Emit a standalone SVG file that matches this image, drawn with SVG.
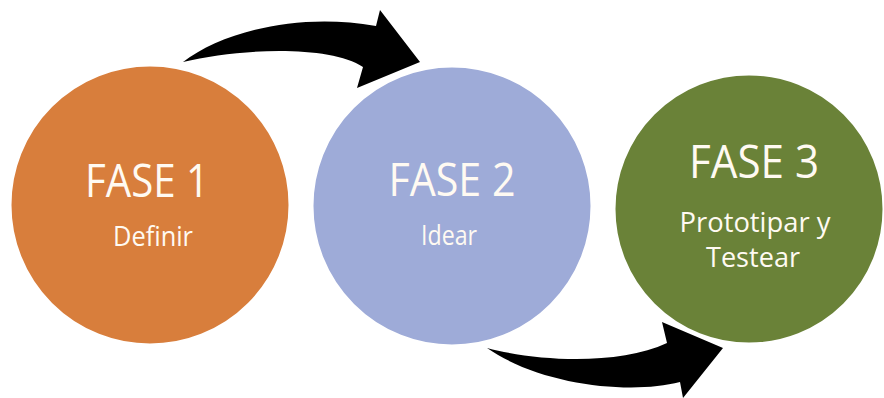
<svg xmlns="http://www.w3.org/2000/svg" width="884" height="398" viewBox="0 0 884 398">
<style>
.node circle{stroke:#ffffff;stroke-width:3}
.t{font-family:"Open Sans","Liberation Sans",sans-serif;fill:#fffaf2;text-anchor:middle}
.big{font-size:46px}
.small{font-size:27px}
.arrow{fill:#000000}
</style>
<rect width="884" height="398" fill="#ffffff"/>
<g id="connectors">
<path class="arrow" d="M183,62 C222,32 298,12 376,26 L380,10 L420,62 L357,88 L363,67 C330,45 240,48 183,62 Z"/>
<path class="arrow" d="M487,348 C540,362 620,365 667,343 L662,322 L723,348 L683,398 L680,382 C630,395 540,385 487,348 Z"/>
</g>
<g id="fase1" class="node">
<circle cx="150" cy="205" r="140" fill="#d87e3c"/>
<text class="t big" x="147" y="197" textLength="124" lengthAdjust="spacingAndGlyphs">FASE 1</text>
<text class="t small" x="153" y="246" textLength="80" lengthAdjust="spacingAndGlyphs">Definir</text>
</g>
<g id="fase2" class="node">
<circle cx="452" cy="206" r="140" fill="#9eabd8"/>
<text class="t big" x="452" y="196" textLength="127" lengthAdjust="spacingAndGlyphs">FASE 2</text>
<text class="t small" x="449" y="245" textLength="56" lengthAdjust="spacingAndGlyphs">Idear</text>
</g>
<g id="fase3" class="node">
<circle cx="749" cy="209" r="135" fill="#6a8238"/>
<text class="t big" x="754" y="178" textLength="130" lengthAdjust="spacingAndGlyphs">FASE 3</text>
<text class="t small" x="755" y="232" textLength="151" lengthAdjust="spacingAndGlyphs">Prototipar y</text>
<text class="t small" x="753" y="267" textLength="94" lengthAdjust="spacingAndGlyphs">Testear</text>
</g>
</svg>
